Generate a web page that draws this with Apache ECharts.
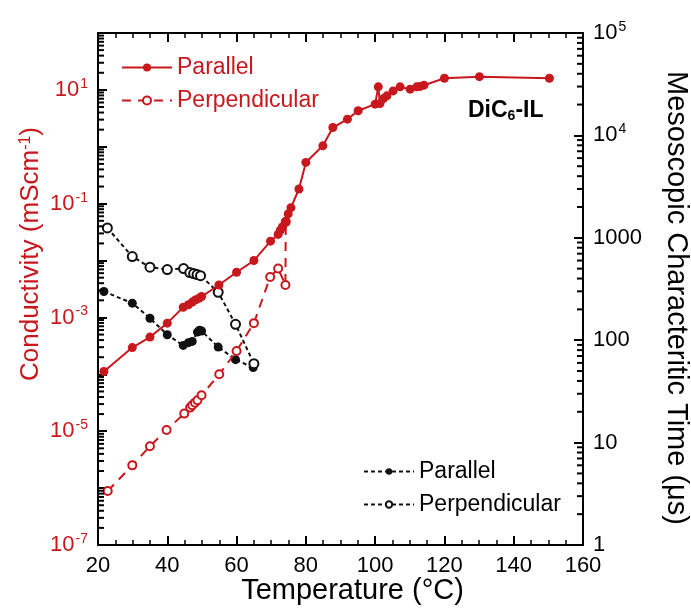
<!DOCTYPE html>
<html><head><meta charset="utf-8">
<script src="https://cdn.jsdelivr.net/npm/echarts@6/dist/echarts.min.js"></script>
<style>html,body{margin:0;padding:0;background:#fff}#c{width:691px;height:610px}</style>
</head><body><div id="c"></div>
<script>
// ---- data ----
const tempCondPar = [21.7,29.9,35.0,40.0,44.6,46.1,47.2,48.2,49.2,49.9,54.9,60.0,65.0,69.8,72.0,72.6,73.2,74.2,74.9,75.7,78.0,80.0,84.9,87.8,92.0,95.1,100.0,100.9,101.4,102.4,103.4,105.2,107.2,110.1,112.0,113.0,114.1,120.0,130.1,150.3];
const condPar = [1.12e-4,2.95e-4,4.52e-4,7.94e-4,1.51e-3,1.67e-3,1.86e-3,2.05e-3,2.18e-3,2.33e-3,3.72e-3,6.24e-3,0.0100,0.0219,0.0288,0.0339,0.0389,0.0479,0.0661,0.0851,0.181,0.531,1.04,2.18,3.06,4.29,5.61,11.3,5.75,7.03,7.85,9.59,11.3,10.3,11.3,11.5,12.1,16.0,17.1,16.0];
const tempCondPerp = [22.8,29.9,35.0,39.8,44.9,46.6,47.2,48.0,48.7,49.9,55.0,60.0,65.0,69.7,72.0,74.1,74.2];
const condPerp = [8.9e-7,2.51e-6,5.46e-6,1.05e-5,2.04e-5,2.60e-5,2.86e-5,3.18e-5,3.50e-5,4.29e-5,1.0e-4,2.57e-4,7.94e-4,5.13e-3,7.24e-3,3.72e-3,0.0479];
const tempTauPar = [21.7,29.9,35.0,40.0,44.6,46.1,47.2,48.7,49.3,49.9,54.7,59.7,64.8];
const tauPar = [299,230,164,113,88.9,94.6,97.3,120,125,123,85.7,64.6,54.0];
const tempTauPerp = [22.7,29.9,35.0,40.0,44.7,46.5,47.6,48.6,49.6,54.7,59.7,65.0];
const tauPerp = [1247,656,516,490,501,457,447,437,427,294,143,59.0];
const xTicks = {min:20, max:160, step:20};
const condDecades = [-7,-6,-5,-4,-3,-2,-1,0,1];
const tauDecades = [0,1,2,3,4];
const minorMultipliers = [2,3,4,5,6,7,8,9];

const RED = '#c8181d';
const FONT = 'Liberation Sans, Arial, sans-serif';
const pairs = (xs, ys) => xs.map((x,i)=>[x, ys[i]]);
const minorVals = decs => decs.flatMap(e => minorMultipliers.map(m => m*Math.pow(10,e)));

function supLabel(color, showFn) {
  return {
    formatter: function(v){
      const e = Math.round(Math.log10(v));
      if (!showFn(e)) return '';
      if (e >= 0 && e <= 3 && color !== RED) return '{b|' + Math.round(Math.pow(10,e)) + '}';
      return '{b|10}{s|' + e + '}';
    },
    rich: {
      b: {fontSize: 22, color: color, fontFamily: FONT},
      s: {fontSize: 14, color: color, fontFamily: FONT, verticalAlign: 'top', padding: [0,0,12,1]}
    }
  };
}

const chart = echarts.init(document.getElementById('c'));
const axisLine = {onZero:false, lineStyle:{color:'#000', width:2}};
const tick = {inside:true, length:9, lineStyle:{color:'#000', width:2}};
const minor = {show:true, length:5, lineStyle:{color:'#000', width:1.5}};

const titleText = {type:'text', id:'label', left:468, top:99, style:{text:'{a|DiC}{b|6}{a|-IL}', rich:{a:{fontSize:23,fontWeight:'bold',fill:'#000',fontFamily:FONT}, b:{fontSize:14,fontWeight:'bold',fill:'#000',fontFamily:FONT,verticalAlign:'bottom',padding:[12,0,0,0]}}}};

chart.setOption({
  animation:false,
  textStyle:{fontFamily:FONT},
  grid:{left:98, right:108, top:33, bottom:65, containLabel:false, outerBoundsMode:'none'},
  xAxis:[
    {type:'value', min:xTicks.min, max:xTicks.max, interval:xTicks.step, position:'bottom',
     axisLine, axisTick:tick, minorTick:Object.assign({splitNumber:4}, minor),
     splitLine:{show:false}, minorSplitLine:{show:false},
     axisLabel:{fontSize:22, color:'#000', margin:10, fontFamily:FONT},
     name:'Temperature (°C)', nameLocation:'middle', nameGap:31, nameMoveOverlap:false,
     nameTextStyle:{fontSize:29, color:'#000', fontFamily:FONT, verticalAlign:'top', padding:[0,0,0,24]}},
    {type:'value', min:xTicks.min, max:xTicks.max, interval:xTicks.step, position:'top',
     axisLine, axisTick:tick, minorTick:Object.assign({splitNumber:4}, minor),
     splitLine:{show:false}, axisLabel:{show:false}}
  ],
  yAxis:[
    {type:'log', logBase:10, min:1e-7, max:100, interval:1, position:'left',
     axisLine, axisTick:tick, minorTick:{show:false},
     splitLine:{show:false},
     axisLabel:Object.assign({margin:10}, supLabel(RED, e => Math.abs(e)%2===1)),
     name:'{n|Conductivity (mScm}{s|-1}{n|)}', nameLocation:'middle', nameGap:54, nameMoveOverlap:false,
     nameTextStyle:{color:RED, padding:[0,0,0,70], rich:{n:{fontSize:26,color:RED,fontFamily:FONT}, s:{fontSize:16,color:RED,fontFamily:FONT,verticalAlign:'top',padding:[0,0,10,0]}}}},
    {type:'log', logBase:10, min:1, max:1e5, interval:1, position:'right',
     axisLine, axisTick:tick, minorTick:{show:false},
     splitLine:{show:false},
     axisLabel:Object.assign({margin:10}, supLabel('#000', e => true)),
     name:'Mesoscopic Characteritic Time (μs)', nameLocation:'middle', nameGap:78, nameRotate:-90, nameMoveOverlap:false,
     nameTextStyle:{fontSize:29, color:'#000', fontFamily:FONT, padding:[0,0,0,18]}}
  ],
  legend:[
    {data:['Parallel (σ)','Perpendicular (σ)'], orient:'vertical', left:116, top:51, itemWidth:50, itemHeight:10, itemGap:10,
     formatter:n=>n.replace(/ \(.\)$/,''), textStyle:{fontSize:23, color:RED, fontFamily:FONT}},
    {data:['Parallel (τ)','Perpendicular (τ)'], orient:'vertical', left:358, top:455, itemWidth:50, itemHeight:8, itemGap:10,
     formatter:n=>n.replace(/ \(.\)$/,''), textStyle:{fontSize:23, color:'#000', fontFamily:FONT}}
  ],
  graphic:[titleText],
  series:[
    {name:'Perpendicular (σ)', type:'line', xAxisIndex:0, yAxisIndex:0, data:pairs(tempCondPerp, condPerp),
     symbol:'emptyCircle', symbolSize:8, itemStyle:{color:RED, borderWidth:2}, lineStyle:{color:RED, width:2, type:[9,7]}, z:3},
    {name:'Parallel (σ)', type:'line', xAxisIndex:0, yAxisIndex:0, data:pairs(tempCondPar, condPar),
     symbol:'circle', symbolSize:9, itemStyle:{color:RED}, lineStyle:{color:RED, width:2}, z:4},
    {name:'Parallel (τ)', type:'line', xAxisIndex:0, yAxisIndex:1, data:pairs(tempTauPar, tauPar),
     symbol:'circle', symbolSize:9, itemStyle:{color:'#111'}, lineStyle:{color:'#111', width:2, type:[4,3]}, z:2},
    {name:'Perpendicular (τ)', type:'line', xAxisIndex:0, yAxisIndex:1, data:pairs(tempTauPerp, tauPerp),
     symbol:'emptyCircle', symbolSize:9, itemStyle:{color:'#111', borderWidth:2.5}, lineStyle:{color:'#111', width:2, type:[4,3]}, z:2}
  ]
});

// minor log ticks, positioned through the axes' own scales
function minorTickLines(xVal, yIdx, vals, dir) {
  return vals.map(v => {
    const p = chart.convertToPixel({xAxisIndex:0, yAxisIndex:yIdx}, [xVal, v]);
    return {type:'line', silent:true, z:10, shape:{x1:p[0], y1:p[1], x2:p[0]+dir*6, y2:p[1]}, style:{stroke:'#000', lineWidth:2}};
  });
}
chart.setOption({graphic:[titleText]
  .concat(minorTickLines(xTicks.min, 0, minorVals(condDecades), 1))
  .concat(minorTickLines(xTicks.max, 1, minorVals(tauDecades), -1))});
</script></body></html>
